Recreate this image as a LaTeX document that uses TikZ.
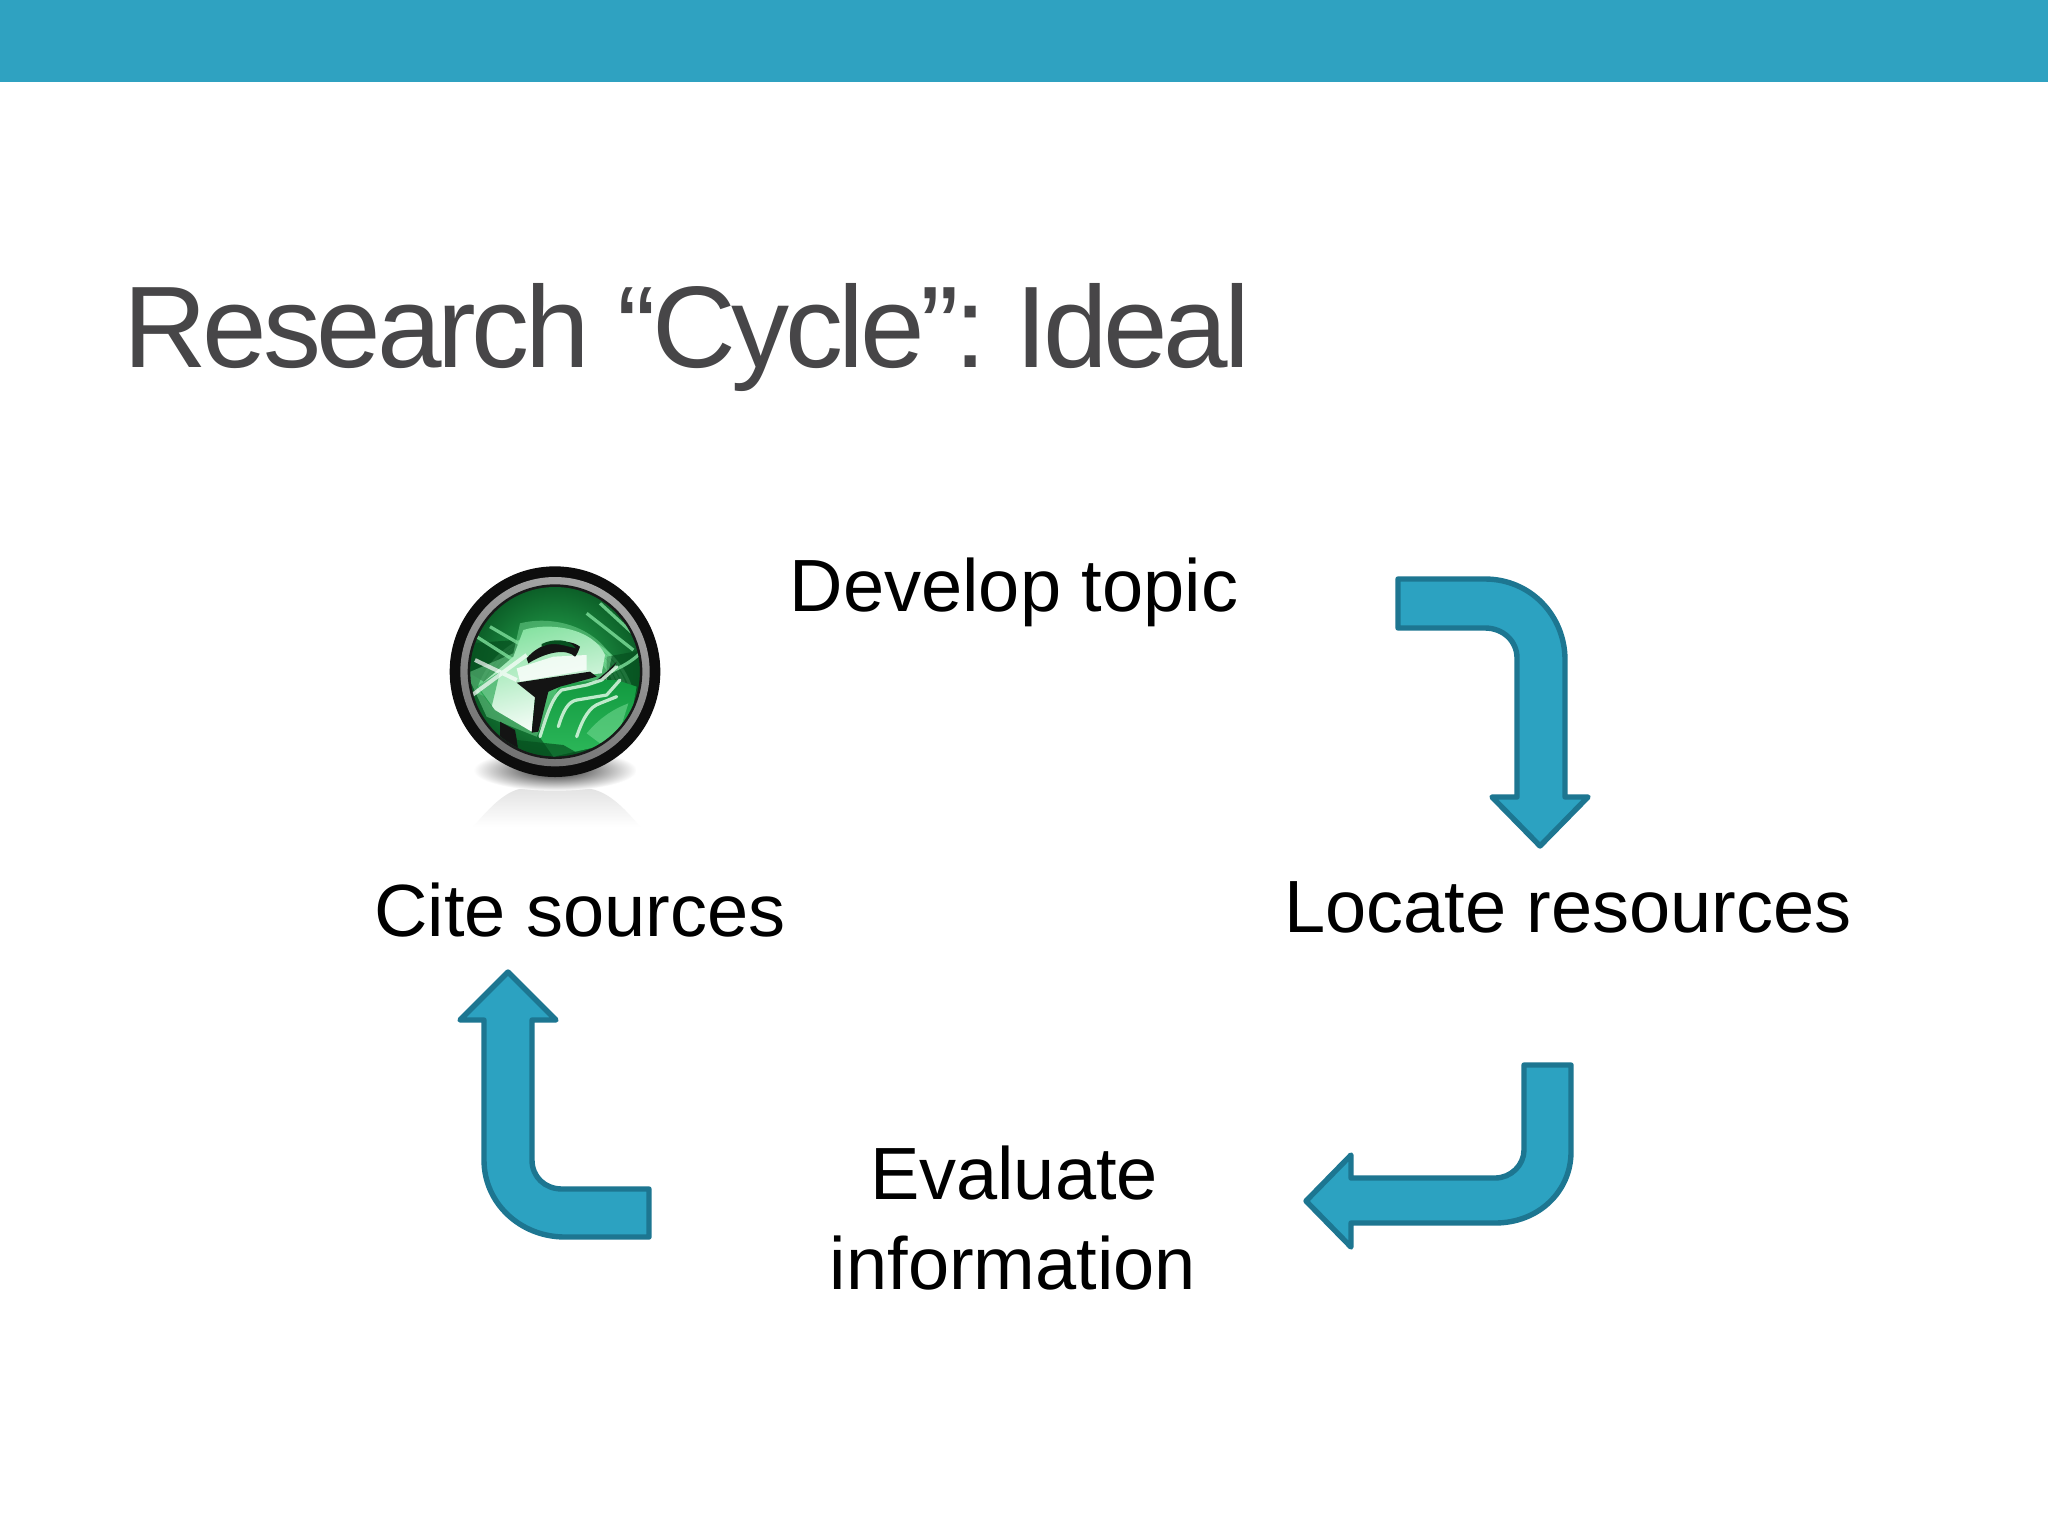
\documentclass[tikz,border=0pt]{standalone}
\usepackage{fontspec}
\setmainfont{Liberation Sans}
\newfontfamily\titlefont[LetterSpace=-3.7]{Liberation Sans}
\usetikzlibrary{fadings}
\definecolor{barblue}{HTML}{2FA2C1}
\definecolor{arrowfill}{HTML}{2CA2C1}
\definecolor{arrowline}{HTML}{1D7691}
\definecolor{titlegrey}{HTML}{474648}
\definecolor{gbright}{HTML}{2DB85A}
\definecolor{gmid}{HTML}{129A40}
\definecolor{gdark}{HTML}{06501F}
\definecolor{glight}{HTML}{7FE09C}
\definecolor{gpale}{HTML}{DDF7E3}
\tikzset{
  blockarrow/.style={draw=arrowline,fill=arrowfill,line width=2.7pt,line join=round},
  bodytext/.style={font=\fontsize{37}{44}\selectfont,text=black,inner sep=0pt,anchor=base},
  titletext/.style={font=\titlefont\fontsize{58}{60}\selectfont,text=titlegrey,inner sep=0pt,anchor=base west},
  ringlight/.style={glight,line width=1.5pt,opacity=.6,line cap=round},
  flame/.style={gpale,line width=1.6pt,opacity=.85,line cap=round,line join=round}
}
\begin{document}
\begin{tikzpicture}[x=0.5pt,y=-0.5pt]
\useasboundingbox (0,0) rectangle (2048,1536);
\fill[white] (0,0) rectangle (2048,1536);
\fill[barblue] (0,0) rectangle (2048,82);
\node[titletext] (title) at (123,367) {Research “Cycle”: \kern-4.5pt Ideal};
\node[bodytext] (develop) at (1014,611) {Develop topic};
\node[bodytext] (locate) at (1568,932) {Locate resources};
\node[bodytext] (cite) at (580,936) {Cite sources};
\node[bodytext] (evaluate) at (1014,1199) {Evaluate};
\node[bodytext] (information) at (1013,1289) {information};
% bent block arrows
\draw[blockarrow] (1398,579) -- (1485,579) .. controls (1530,579) and (1565,615) .. (1565,660)
  -- (1565,797) -- (1588,797) -- (1540,846) -- (1492,797) -- (1517,797) -- (1517,658)
  .. controls (1517,641) and (1503,628) .. (1485,628) -- (1398,628) -- cycle;
\draw[blockarrow] (1524,1065) -- (1571,1065) -- (1571,1152) .. controls (1571,1191) and (1539,1223) .. (1495,1223)
  -- (1351,1223) -- (1351,1247) -- (1306,1201) -- (1351,1155) -- (1351,1178) -- (1495,1178)
  .. controls (1511,1178) and (1524,1165) .. (1524,1150) -- cycle;
\draw[blockarrow] (508,972) -- (556,1020) -- (532,1020) -- (532,1160) .. controls (532,1177) and (545,1189) .. (562,1189)
  -- (649,1189) -- (649,1237) -- (565,1237) .. controls (520,1237) and (484,1203) .. (484,1160)
  -- (484,1020) -- (460,1020) -- cycle;
% icon (coordinates in a local 3x system)
\begin{scope}[shift={(420,540)},x=0.16667pt,y=-0.16667pt]
  % reflection
  \shade[top color=black!11,bottom color=white] (160,860) .. controls (210,800) and (260,750) .. (310,745) -- (500,745) .. controls (560,750) and (610,800) .. (660,860) -- cycle;
  % shadow
  \shade[inner color=black!85,outer color=white] (405,690) ellipse [x radius=245,y radius=62];
  % rings
  \fill[black!95] (405,395) circle (316);
  \shade[top color=black!35,bottom color=black!55,shading angle=-20] (405,395) circle (284);
  \fill[black!90] (405,395) circle (262);
  \begin{scope}
    \clip (405,395) circle (254);
    \shade[inner color=gbright,outer color=gdark] (405,395) circle (300);
    % top band
    \fill[gmid!70!glight,opacity=.7] (405,395) ++(15:245) arc[start angle=-15,end angle=-165,radius=245] -- ++(30,12) arc[start angle=-165,end angle=-15,radius=215] -- cycle;
    \foreach \r in {190,205,222,240}{
      \draw[ringlight] (405,395) ++(15:\r) arc[start angle=-15,end angle=-165,radius=\r];
    }
    \fill[gdark,opacity=.75] (150,310) -- (285,300) -- (340,330) -- (200,430) -- (150,400) -- cycle;
    \draw[glight,line width=1.6pt,opacity=.8] (170,290) -- (280,360) (210,260) -- (330,330) (500,220) -- (640,330) (540,190) -- (660,300);
    \fill[gdark,opacity=.7] (560,350) -- (670,330) -- (670,450) -- (560,470) -- cycle;
    \draw[glight,line width=1.6pt,opacity=.8] (560,400) .. controls (610,380) and (640,360) .. (660,340);
    % pale question-mark body with soft halo
    \fill[glight,opacity=.45] (300,250) .. controls (400,225) and (520,260) .. (575,350) -- (560,420) -- (420,430) -- (350,590) -- (200,530) -- (140,400) -- (280,340) -- cycle;
    \shade[top color=glight,bottom color=white,shading angle=15] (310,270) .. controls (390,245) and (520,265) .. (555,345) -- (545,400) -- (395,415) -- (295,430) -- (345,470) -- (335,575) -- (225,510) -- (175,440) -- (280,350) -- cycle;
    \fill[white,opacity=.8] (290,385) -- (400,350) -- (500,345) -- (500,390) -- (300,425) -- cycle;
    \fill[gmid,opacity=.55] (170,440) -- (240,395) -- (215,500) -- cycle;
    \draw[white,line width=2pt,opacity=.7] (150,470) -- (320,345) (165,360) -- (290,420);
    % black hole of the question mark
    \fill[black!92] (320,355) .. controls (360,305) and (440,290) .. (480,320) .. controls (475,335) and (470,345) .. (465,350) .. controls (440,325) and (380,335) .. (325,370) -- cycle;
    \fill[gdark] (365,312) .. controls (400,295) and (445,295) .. (468,325) -- (440,318) .. controls (410,310) and (385,310) .. (365,320) -- cycle;
    % black slab and stem
    \fill[black!92] (290,428) -- (395,412) -- (510,395) -- (530,410) -- (420,440) -- (385,455) -- (355,575) -- (335,578) -- (345,472) -- cycle;
    \fill[black!92] (560,395) -- (590,365) -- (555,420) -- (525,425) -- cycle;
    % dark lower-left block
    \fill[black!92] (240,545) -- (285,570) -- (295,625) -- (240,600) -- cycle;
    % lower flames
    \shade[top color=gmid,bottom color=gbright] (355,585) -- (420,450) -- (540,420) -- (590,420) -- (650,440) -- (620,600) -- (400,650) -- cycle;
    \draw[flame] (360,590) .. controls (385,510) and (400,470) .. (425,450) -- (500,435) -- (545,420) -- (590,380);
    \draw[flame] (415,560) .. controls (430,510) and (445,485) .. (470,480) -- (560,465) -- (600,420);
    \draw[flame] (470,590) .. controls (490,530) and (510,500) .. (540,490) -- (590,470);
    \fill[gdark,opacity=.7] (290,600) -- (430,615) -- (500,655) -- (300,665) -- cycle;
    \fill[glight,opacity=.5] (500,580) .. controls (550,520) and (600,500) .. (625,490) -- (600,570) -- (540,610) -- cycle;
  \end{scope}
\end{scope}
\end{tikzpicture}
\end{document}
